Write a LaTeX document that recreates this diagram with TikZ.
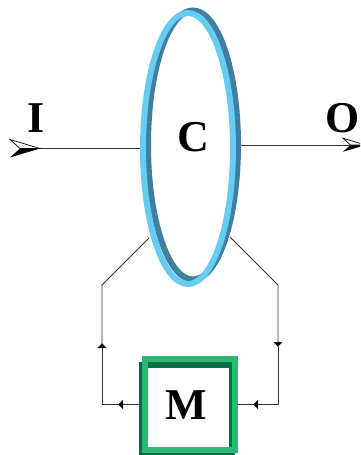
\documentclass[tikz,border=0pt]{standalone}
\usepackage{fontspec}
\setmainfont{Liberation Serif}
\usepackage{tikz}
\usetikzlibrary{shapes.geometric,arrows.meta,positioning}
\definecolor{coillight}{HTML}{66CCF2}
\definecolor{coildark}{HTML}{3F7F9F}
\definecolor{boxlight}{HTML}{2DB674}
\definecolor{boxdark}{HTML}{006F47}

\begin{document}
\begin{tikzpicture}[x=1pt, y=-1pt,
  every node/.style={font=\fontsize{44}{44}\selectfont\bfseries, inner sep=0pt},
  coilring/.style={ellipse, draw, line width=6pt, minimum width=90pt},
  boxring/.style={rectangle, draw, line width=6pt},
  wire/.style={line width=0.8pt, draw=black!80},
  wirearrow/.style={wire, -{Latex[black, length=5pt, width=10pt]}},
  barbhead/.pic={
    \fill[black] (0,9) -- (10,0) -- (30,0) -- cycle;
    \filldraw[fill=white, draw=black, line width=0.7pt] (0,-9) -- (10,0) -- (30,0) -- cycle;
  }]
  \useasboundingbox (0,0) rectangle (360,455);
  \clip (0,0) rectangle (360,455);
  \node[coilring, draw=coildark, minimum height=269pt] (coilback) at (193,145) {};
  \node[coilring, draw=coillight, minimum height=271pt] (coil) at (188,148.5) {};
  \node (clabel) at (193,137) {C};
  \node (ilabel) at (36,118) {I};
  \node (olabel) at (342.5,118) {O};
  \node[boxring, draw=boxdark, fill=white, minimum width=90pt, minimum height=87pt] (mback) at (187,408.5) {};
  \node[boxring, draw=boxlight, minimum width=90pt, minimum height=91pt] (mbox) at (190,404.5) {};
  \node (mlabel) at (186,405) {M};
  % free ends of the wires
  \coordinate (intail) at (20,148.5);
  \coordinate (outhead) at (350,145);
  \coordinate (coilsw) at (149,238);
  \coordinate (coilse) at (230,237);
  \coordinate (leftup) at (102,285);
  \coordinate (leftdown) at (102,404.5);
  \coordinate (rightup) at (278,285);
  \coordinate (rightdown) at (278,404.5);
  \coordinate (lefttip) at (102,343);
  \coordinate (righttip) at (278,347);
  \coordinate (lowlefttip) at (118,404.5);
  \coordinate (lowrighttip) at (253,404.5);
  \draw[wire] (intail) -- (coil.west);
  \draw[wire] (coilback.east) -- (outhead);
  \pic at (10,148.5) {barbhead};
  \pic[scale=0.75] at (343,145) {barbhead};
  \draw[wirearrow] (mbox.west) -- (lowlefttip);
  \draw[wirearrow] (lowlefttip) -- (leftdown) -- (lefttip);
  \draw[wire] (lefttip) -- (leftup) -- (coilsw);
  \draw[wirearrow] (coilse) -- (rightup) -- (righttip);
  \draw[wire] (righttip) -- (rightdown);
  \draw[wirearrow] (rightdown) -- (lowrighttip);
  \draw[wire] (lowrighttip) -- (mbox.east);
\end{tikzpicture}
\end{document}
